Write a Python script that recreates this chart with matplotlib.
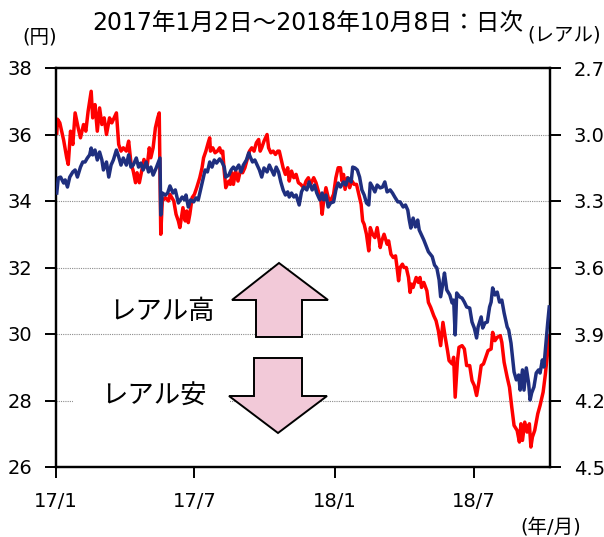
import numpy as np
import pandas as pd
import matplotlib
matplotlib.use("Agg")
import matplotlib.pyplot as plt
from matplotlib.patches import Polygon, Rectangle

# days counted from 2017-01-01
red_days = [1, 2, 5, 10, 14, 16, 19, 22, 25, 29, 32, 36, 39, 42, 46, 48, 51, 54, 57, 60,
            63, 66, 70, 73, 76, 79, 82, 85, 88, 92, 95, 98, 101, 104, 106, 109, 112, 115, 119, 122,
            124, 127, 130, 133, 135, 137, 139, 143, 147, 149, 154, 157, 160, 162, 166, 169, 171, 173, 175, 178,
            181, 184, 188, 191, 193, 196, 199, 201, 202, 205, 208, 211, 214, 216, 218, 220, 222, 226, 228, 230,
            232, 235, 238, 241, 244, 247, 250, 253, 256, 259, 262, 265, 267, 269, 272, 276, 278, 281, 284, 287,
            290, 292, 294, 297, 300, 303, 305, 308, 311, 314, 317, 320, 324, 327, 330, 333, 337, 340, 343, 346,
            348, 350, 353, 356, 359, 363, 366, 369, 372, 374, 376, 378, 381, 384, 387, 390, 393, 395, 399, 401,
            403, 406, 409, 411, 414, 417, 420, 424, 426, 429, 433, 435, 438, 441, 444, 446, 448, 450, 453, 455,
            458, 461, 463, 465, 467, 471, 474, 476, 478, 481, 485, 487, 490, 494, 497, 500, 503, 506, 509, 512,
            514, 518, 520, 522, 525, 527, 531, 534, 537, 541, 544, 547, 550, 553, 556, 559, 562, 565, 569, 571,
            574, 577, 581, 583, 586, 590, 593, 596, 599, 603, 606, 608, 610, 613, 616, 619, 621, 623, 626, 630,
            633, 637, 640, 643, 645]
red_vals = [36.04, 36.46, 36.35, 35.83, 35.3, 35.1, 36.1, 35.7, 36.65, 36.2, 35.9, 36.3, 36.1, 36.7, 37.3, 36.5, 36.9, 36.1, 36.8, 36.3,
            36.5, 36.0, 36.5, 36.35, 36.5, 36.65, 35.7, 35.5, 35.6, 35.5, 35.8, 35.15, 34.9, 34.55, 34.85, 34.55, 34.9, 35.25, 35.0, 35.6,
            35.3, 35.6, 36.2, 36.5, 36.65, 33.0, 34.0, 34.1, 34.0, 34.2, 34.0, 33.6, 33.4, 33.2, 33.8, 33.4, 33.7, 33.35, 33.6, 34.1,
            34.2, 34.4, 34.7, 35.0, 35.3, 35.5, 35.75, 35.9, 35.5, 35.6, 35.45, 35.5, 35.6, 35.45, 35.5, 34.9, 34.4, 34.6, 34.5, 34.85,
            34.5, 34.9, 34.6, 34.9, 34.85, 35.0, 35.25, 35.5, 35.6, 35.5, 35.75, 35.85, 35.5, 35.6, 35.8, 36.0, 35.6, 35.45, 35.5, 35.4,
            35.5, 35.5, 35.3, 35.0, 34.8, 35.0, 34.6, 34.9, 34.7, 34.8, 34.55, 34.5, 34.4, 34.6, 34.7, 34.5, 34.7, 34.55, 34.3, 34.1,
            33.6, 34.0, 34.4, 34.1, 34.0, 34.2, 34.7, 35.0, 35.0, 34.6, 34.8, 34.35, 34.7, 34.4, 34.6, 34.5, 34.5, 34.3, 33.9, 33.4,
            33.3, 33.0, 32.5, 33.2, 33.0, 32.9, 33.2, 32.6, 32.8, 33.0, 32.7, 32.8, 32.4, 32.3, 32.35, 32.0, 31.6, 32.0, 32.1, 32.0,
            32.0, 31.7, 31.25, 31.5, 31.4, 31.7, 31.55, 31.7, 31.4, 31.55, 31.3, 30.95, 30.8, 30.55, 30.4, 30.1, 29.65, 30.35, 29.9, 29.5,
            29.2, 29.1, 29.3, 28.1, 29.2, 29.6, 29.65, 29.55, 29.05, 29.05, 28.6, 28.45, 28.15, 28.55, 29.05, 29.1, 29.3, 29.5, 29.55, 30.05,
            29.8, 29.9, 29.95, 29.75, 29.15, 28.7, 28.4, 27.8, 27.25, 27.1, 26.75, 27.3, 26.8, 27.35, 27.05, 27.3, 26.6, 26.9, 27.1, 27.6,
            27.85, 28.25, 28.8, 29.5, 29.95]

blue_days = [1, 3, 6, 10, 12, 15, 18, 22, 25, 28, 32, 35, 38, 41, 44, 46, 48, 51, 54, 57,
             60, 62, 66, 69, 72, 75, 79, 82, 85, 88, 92, 95, 98, 101, 105, 108, 111, 114, 118, 121,
             124, 127, 131, 134, 136, 137, 139, 143, 146, 149, 153, 156, 160, 165, 168, 170, 173, 176, 180, 183,
             186, 189, 193, 195, 198, 201, 204, 207, 210, 214, 217, 220, 222, 226, 229, 232, 235, 239, 242, 245,
             249, 252, 254, 257, 260, 263, 266, 269, 272, 276, 279, 282, 285, 288, 291, 294, 297, 300, 303, 305,
             308, 311, 314, 318, 321, 324, 328, 331, 335, 338, 341, 345, 348, 350, 353, 356, 359, 363, 366, 369,
             372, 376, 379, 382, 386, 388, 391, 394, 397, 400, 403, 406, 409, 411, 414, 417, 420, 424, 427, 430,
             433, 437, 440, 443, 447, 450, 454, 457, 460, 462, 464, 467, 470, 473, 475, 481, 487, 492, 495, 498,
             501, 503, 506, 508, 511, 515, 518, 520, 522, 524, 528, 531, 534, 537, 541, 544, 547, 550, 552, 556,
             558, 561, 564, 567, 569, 571, 574, 577, 580, 583, 586, 590, 592, 595, 597, 599, 602, 605, 607, 610,
             612, 615, 618, 620, 622, 625, 628, 631, 633, 636, 638, 641, 643, 645]
blue_vals = [3.264, 3.196, 3.192, 3.219, 3.205, 3.237, 3.192, 3.169, 3.16, 3.192, 3.147, 3.124, 3.124, 3.106, 3.092, 3.061, 3.092, 3.07, 3.115, 3.079,
             3.115, 3.16, 3.124, 3.192, 3.138, 3.115, 3.07, 3.101, 3.138, 3.106, 3.138, 3.092, 3.147, 3.138, 3.106, 3.147, 3.129, 3.16, 3.124, 3.169,
             3.147, 3.183, 3.151, 3.124, 3.106, 3.363, 3.264, 3.273, 3.264, 3.232, 3.264, 3.25, 3.309, 3.282, 3.295, 3.273, 3.327, 3.295, 3.304, 3.286,
             3.295, 3.25, 3.192, 3.16, 3.169, 3.124, 3.147, 3.115, 3.129, 3.11, 3.124, 3.147, 3.192, 3.183, 3.16, 3.147, 3.16, 3.138, 3.169, 3.138,
             3.115, 3.083, 3.101, 3.124, 3.115, 3.138, 3.16, 3.192, 3.151, 3.169, 3.138, 3.16, 3.183, 3.147, 3.169, 3.214, 3.25, 3.273, 3.259, 3.282,
             3.264, 3.282, 3.273, 3.318, 3.259, 3.237, 3.25, 3.214, 3.25, 3.228, 3.264, 3.295, 3.264, 3.295, 3.273, 3.327, 3.309, 3.304, 3.25, 3.219,
             3.237, 3.214, 3.228, 3.196, 3.214, 3.147, 3.151, 3.16, 3.192, 3.25, 3.273, 3.309, 3.318, 3.219, 3.237, 3.259, 3.228, 3.241, 3.237, 3.214,
             3.259, 3.25, 3.264, 3.282, 3.304, 3.304, 3.327, 3.318, 3.341, 3.386, 3.422, 3.377, 3.417, 3.386, 3.431, 3.476, 3.529, 3.551, 3.589, 3.602,
             3.656, 3.732, 3.67, 3.625, 3.701, 3.724, 3.76, 3.747, 3.904, 3.715, 3.733, 3.738, 3.756, 3.778, 3.783, 3.846, 3.873, 3.918, 3.868, 3.823,
             3.873, 3.85, 3.846, 3.778, 3.756, 3.692, 3.724, 3.711, 3.756, 3.747, 3.805, 3.868, 3.882, 3.941, 4.004, 4.071, 4.107, 4.085, 4.153, 4.062,
             4.153, 4.053, 4.121, 4.198, 4.166, 4.139, 4.076, 4.062, 4.076, 4.017, 4.049, 3.927, 3.85, 3.778]

left_ticks = [26, 28, 30, 32, 34, 36, 38]
right_ticks = [2.7, 3.0, 3.3, 3.6, 3.9, 4.2, 4.5]
x_ticks = ["2017-01-01", "2017-07-01", "2018-01-01", "2018-07-01"]
x_labels = ["17/1", "17/7", "18/1", "18/7"]

start = pd.Timestamp("2017-01-01")
red_dates = start + pd.to_timedelta(red_days, unit="D")
blue_dates = start + pd.to_timedelta(blue_days, unit="D")

jp = ["DejaVu Sans", "Noto Sans CJK JP"]
W, H = 604, 537

def fx(x):
    return x / W

def fy(y):
    return 1 - y / H

fig = plt.figure(figsize=(6.04, 5.37), dpi=100)
ax = fig.add_axes([fx(56), fy(467), fx(550) - fx(56), fy(68) - fy(467)])
ax2 = ax.twinx()

ax.set_axisbelow(True)
ax.grid(axis="y", color="#8c8c8c", linestyle=(0, (1, 1)), linewidth=0.8)
ax.plot(red_dates, red_vals, color="#ff0000", linewidth=2.5, zorder=3)
ax2.plot(blue_dates, blue_vals, color="#1f2f7f", linewidth=2.5, zorder=3)

ax.set_xlim(start, pd.Timestamp("2018-10-09"))
ax.set_ylim(26, 38)
ax.set_yticks(left_ticks)
ax2.set_ylim(4.5, 2.7)
ax2.set_yticks(right_ticks)
ax2.set_yticklabels([f"{v:.1f}" for v in right_ticks])
ax.set_xticks(pd.to_datetime(x_ticks))
ax.set_xticklabels(x_labels)

for a in (ax, ax2):
    for s in a.spines.values():
        s.set_linewidth(1.6)
        s.set_color("black")
ax.tick_params(axis="both", direction="out", length=8, width=1.4, labelsize=14)
ax.tick_params(axis="x", pad=10)
ax.tick_params(axis="y", pad=9)
ax2.tick_params(axis="y", direction="out", length=8, width=1.4, labelsize=14, pad=9)

# white boxes behind the labels hide the grid
for x0, x1, yc in [(90, 236, 312), (73, 230, 398)]:
    ax.add_patch(Rectangle((fx(x0), fy(yc + 16)), fx(x1) - fx(x0), fy(yc - 16) - fy(yc + 16),
                           transform=fig.transFigure, facecolor="white", edgecolor="none",
                           zorder=1, clip_on=False))

up = [(279, 263), (328, 300), (302, 300), (302, 337), (256, 337), (256, 300), (232, 300)]
down = [(254, 358), (302, 358), (302, 396), (327, 396), (278, 433), (229, 396), (254, 396)]
for pts in (up, down):
    ax.add_patch(Polygon([(fx(x), fy(y)) for x, y in pts], closed=True, transform=fig.transFigure,
                         facecolor="#f2c9d8", edgecolor="black", linewidth=1.4, zorder=2, clip_on=False))

fig.text(fx(162), fy(312), "レアル高", family=jp, fontsize=19, ha="center", va="center")
fig.text(fx(154), fy(397), "レアル安", family=jp, fontsize=19, ha="center", va="center")

fig.text(fx(308), fy(23), "2017年1月2日～2018年10月8日：日次", family=jp, fontsize=17, ha="center", va="center")
fig.text(fx(40), fy(37), "(円)", family=jp, fontsize=14, ha="center", va="center")
fig.text(fx(564), fy(35), "(レアル)", family=jp, fontsize=14, ha="center", va="center")
fig.text(fx(551), fy(527), "(年/月)", family=jp, fontsize=14, ha="center", va="center")

fig.savefig("out.png", dpi=100)
